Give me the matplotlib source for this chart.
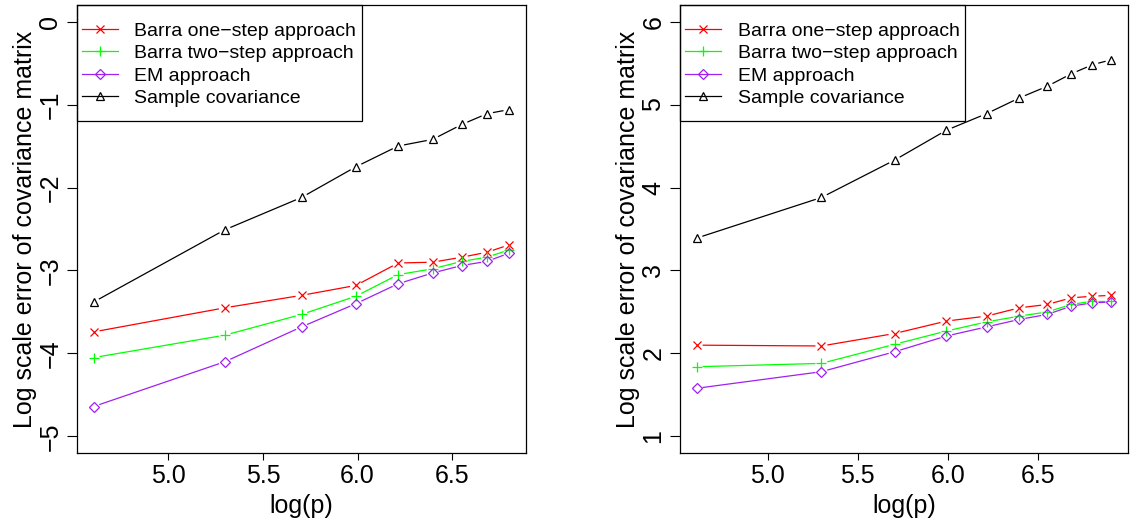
import numpy as np
import matplotlib
matplotlib.use("Agg")
import matplotlib.pyplot as plt
from matplotlib.lines import Line2D
from matplotlib.patches import Rectangle

plt.rcParams['font.family'] = ['Liberation Sans', 'DejaVu Sans']

# p = 100, 200, ..., 900 on the left; up to 1000 on the right
p_left = [100, 200, 300, 400, 500, 600, 700, 800, 900]
p_right = [100, 200, 300, 400, 500, 600, 700, 800, 900, 1000]

left_one_step = [-3.74, -3.45, -3.30, -3.18, -2.91, -2.90, -2.84, -2.78, -2.69]
left_two_step = [-4.05, -3.78, -3.53, -3.31, -3.05, -2.98, -2.89, -2.84, -2.75]
left_em = [-4.64, -4.10, -3.68, -3.40, -3.16, -3.03, -2.94, -2.89, -2.79]
left_sample = [-3.38, -2.51, -2.12, -1.75, -1.50, -1.42, -1.24, -1.11, -1.06]

right_one_step = [2.10, 2.09, 2.24, 2.39, 2.45, 2.55, 2.59, 2.67, 2.69, 2.70]
right_two_step = [1.84, 1.88, 2.11, 2.27, 2.38, 2.45, 2.50, 2.59, 2.63, 2.63]
right_em = [1.58, 1.78, 2.02, 2.21, 2.32, 2.41, 2.47, 2.57, 2.61, 2.62]
right_sample = [3.39, 3.88, 4.33, 4.69, 4.89, 5.08, 5.22, 5.37, 5.48, 5.54]

labels = ["Barra one\u2212step approach", "Barra two\u2212step approach",
          "EM approach", "Sample covariance"]
colors = ["#FF0000", "#00FF00", "#A020F0", "#000000"]
markers = ["x", "+", "D", "^"]
msizes = [6, 7.5, 5.5, 6]

W, H = 1133, 520
fig = plt.figure(figsize=(W / 100, H / 100), dpi=100)


def px_axes(x0, y0, x1, y1):
    return fig.add_axes([x0 / W, 1 - y1 / H, (x1 - x0) / W, (y1 - y0) / H])


def type_b(ax, x, y, color, marker, ms, gap=6.0):
    # lines broken around each point, like R's type = "b"
    pts = ax.transData.transform(np.column_stack([x, y]))
    inv = ax.transData.inverted()
    for a, b in zip(pts[:-1], pts[1:]):
        d = b - a
        L = np.hypot(*d)
        if L <= 2 * gap:
            continue
        u = d / L
        seg = inv.transform(np.array([a + u * gap, b - u * gap]))
        ax.plot(seg[:, 0], seg[:, 1], color=color, lw=0.9, solid_capstyle='butt')
    ax.plot(x, y, linestyle='none', marker=marker, ms=ms, mec=color,
            mfc='none', mew=0.9)


def panel(ax, x0, p, series, ylim, yticks):
    x = np.log(p)
    xr = x.max() - x.min()
    ax.set_xlim(x.min() - 0.04 * xr, x.max() + 0.04 * xr)
    yr = ylim[1] - ylim[0]
    ax.set_ylim(ylim[0] - 0.04 * yr, ylim[1] + 0.04 * yr)
    ax.set_xticks([5.0, 5.5, 6.0, 6.5])
    ax.set_xticklabels(["5.0", "5.5", "6.0", "6.5"])
    ax.set_yticks(yticks)
    ax.set_yticklabels([str(t).replace("-", "\u2212") for t in yticks],
                       rotation=90, va='center')
    ax.tick_params(axis='x', length=5, width=0.8, pad=3, labelsize=18)
    ax.tick_params(axis='y', length=7, width=0.8, pad=3.5, labelsize=18)
    for s in ax.spines.values():
        s.set_linewidth(0.9)
    for yv, c, m, ms in zip(series, colors, markers, msizes):
        type_b(ax, x, np.array(yv), c, m, ms)
    ax.set_xlabel("log(p)", fontsize=18, labelpad=4)
    ax.set_ylabel("Log scale error of covariance matrix", fontsize=18)
    ax.yaxis.set_label_coords(-0.09, 0.5)

    # legend in the top-left corner, box drawn separately
    handles = [Line2D([], [], color=c, marker=m, ms=ms, mfc='none', mew=0.9, lw=0.9)
               for c, m, ms in zip(colors, markers, msizes)]
    ax.legend(handles, labels, loc='upper left', fontsize=14,
              bbox_to_anchor=((x0 + 5) / W, 1 - 22 / H),
              bbox_transform=fig.transFigure, borderaxespad=0, borderpad=0,
              frameon=False, handlelength=1.85, handletextpad=0.85,
              labelspacing=0.25)
    fig.add_artist(Rectangle((x0 / W, 1 - 121 / H), 285 / W, 116 / H,
                             transform=fig.transFigure, fill=False,
                             edgecolor='black', lw=0.9))


ax1 = px_axes(77, 5, 526, 453)
ax2 = px_axes(680, 5, 1128, 453)

panel(ax1, 77, np.array(p_left, float),
      [left_one_step, left_two_step, left_em, left_sample],
      (-5, 0), [-5, -4, -3, -2, -1, 0])
panel(ax2, 680, np.array(p_right, float),
      [right_one_step, right_two_step, right_em, right_sample],
      (1, 6), [1, 2, 3, 4, 5, 6])

fig.savefig("out.png", dpi=100)
